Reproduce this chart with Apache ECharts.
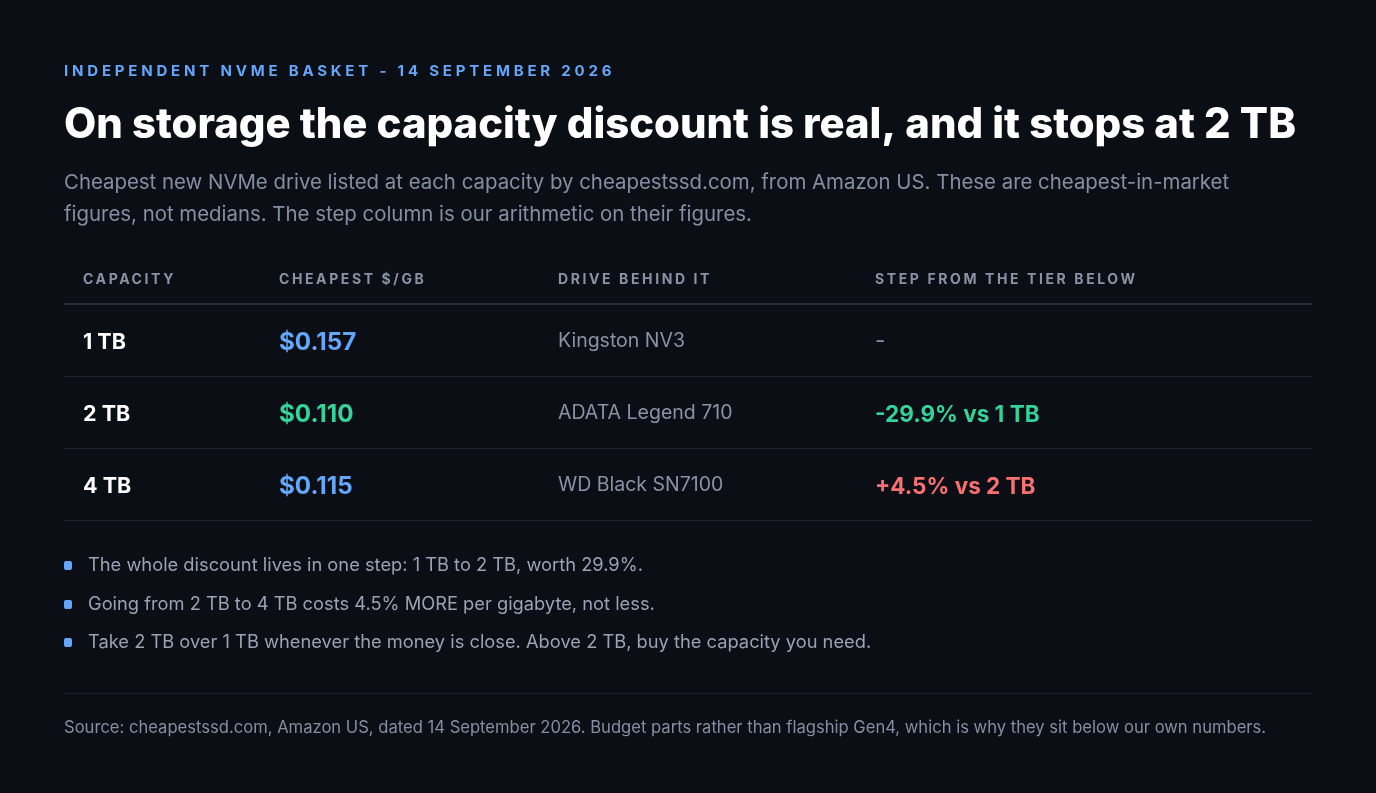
<!DOCTYPE html>
<html>
<head>
<meta charset="utf-8">
<script src="https://cdn.jsdelivr.net/npm/echarts@6/dist/echarts.min.js"></script>
<style>
  html, body { margin: 0; padding: 0; background: #0b0e15; }
  #main { width: 1376px; height: 793px; }
</style>
</head>
<body>
<div id="main"></div>
<script>
// table data
var capacities = ['1 TB', '2 TB', '4 TB'];
var pricePerGB = [0.157, 0.110, 0.115];
var drives = ['Kingston NV3', 'ADATA Legend 710', 'WD Black SN7100'];
var stepPct = [null, -29.9, 4.5];
var stepVs = [null, '1 TB', '2 TB'];
var headers = ['CAPACITY', 'CHEAPEST $/GB', 'DRIVE BEHIND IT', 'STEP FROM THE TIER BELOW'];

var kicker = 'INDEPENDENT NVME BASKET - 14 SEPTEMBER 2026';
var title = 'On storage the capacity discount is real, and it stops at 2 TB';
var subtitle = [
    'Cheapest new NVMe drive listed at each capacity by cheapestssd.com, from Amazon US. These are cheapest-in-market',
    'figures, not medians. The step column is our arithmetic on their figures.'
];
var notes = [
    'The whole discount lives in one step: 1 TB to 2 TB, worth 29.9%.',
    'Going from 2 TB to 4 TB costs 4.5% MORE per gigabyte, not less.',
    'Take 2 TB over 1 TB whenever the money is close. Above 2 TB, buy the capacity you need.'
];
var source = 'Source: cheapestssd.com, Amazon US, dated 14 September 2026. Budget parts rather than flagship Gen4, which is why they sit below our own numbers.';

// layout
var FONT = 'Inter, "Noto Sans", sans-serif';
var colLeft = [19, 215, 494, 811];
var BLUE = '#64a6f9', GREEN = '#34d399', RED = '#f87171';
var minPrice = Math.min.apply(null, pricePerGB);

// tracked (letter-spaced) caps labels: canvas letterSpacing only while drawing them
var tracking = {};
tracking[kicker] = '3.8px';
headers.forEach(function (h) { tracking[h] = '2.6px'; });
var origFillText = CanvasRenderingContext2D.prototype.fillText;
CanvasRenderingContext2D.prototype.fillText = function (t, x, y) {
    var ls = tracking[t];
    var has = 'letterSpacing' in this;
    var f = this.font;
    if (has) {
        this.letterSpacing = ls || '0px';
        this.font = f;
    }
    var r = origFillText.call(this, t, x, y);
    if (has && ls) {
        this.letterSpacing = '0px';
        this.font = f;
    }
    return r;
};

var dom = document.getElementById('main');
var chart = echarts.init(dom, null, { renderer: 'canvas' });

function txt(text, x, y, font, fill) {
    return {
        type: 'text',
        style: { text: text, x: x, y: y, font: font, fill: fill, textVerticalAlign: 'middle' }
    };
}

var graphics = [];
graphics.push(txt(kicker, 64, 71, 'bold 15px ' + FONT, BLUE));
graphics.push(txt(title, 64, 125, '800 41.8px ' + FONT, '#ffffff'));
subtitle.forEach(function (line, i) {
    graphics.push(txt(line, 64, 183 + i * 32, '20.4px ' + FONT, '#858ea3'));
});
headers.forEach(function (h, i) {
    graphics.push(txt(h, 64 + colLeft[i], 280, 'bold 14px ' + FONT, '#8a93a6'));
});
var noteY = [565, 604, 642];
notes.forEach(function (n, i) {
    graphics.push({
        type: 'rect',
        shape: { x: 64, y: noteY[i] - 4, width: 8, height: 9, r: 2 },
        style: { fill: BLUE }
    });
    graphics.push(txt(n, 88, noteY[i] + 1, '18.3px ' + FONT, '#9aa2b3'));
});
graphics.push({
    type: 'line',
    shape: { x1: 64, y1: 693.5, x2: 1312, y2: 693.5 },
    style: { stroke: '#1d2230', lineWidth: 1 }
});
graphics.push(txt(source, 64, 728, '16.6px ' + FONT, '#858ea3'));

var option = {
    backgroundColor: '#0b0e15',
    animation: false,
    grid: { left: 64, right: 64, top: 304, height: 216 },
    xAxis: {
        type: 'value', position: 'top', min: 0, max: 1,
        axisLine: { show: true, onZero: false, lineStyle: { color: '#262c3a', width: 2 } },
        axisTick: { show: false }, axisLabel: { show: false }, splitLine: { show: false }
    },
    yAxis: {
        type: 'category', inverse: true, data: capacities,
        axisLine: { show: false }, axisTick: { show: false }, axisLabel: { show: false },
        splitLine: { show: true, lineStyle: { color: '#1d2230', width: 1 } }
    },
    graphic: graphics,
    series: [{
        type: 'custom',
        data: capacities.map(function (c, i) { return [0, i]; }),
        encode: { x: 0, y: 1 },
        renderItem: function (params, api) {
            var i = api.value(1);
            var p = api.coord([0, i]);
            var x0 = p[0], y = p[1] + 3;
            var price = pricePerGB[i];
            var step = stepPct[i];
            var stepText = step === null ? '-' : (step > 0 ? '+' : '') + step.toFixed(1) + '% vs ' + stepVs[i];
            var stepColor = step === null ? '#858ea3' : (step < 0 ? GREEN : RED);
            return {
                type: 'group',
                children: [
                    txt(capacities[i], x0 + colLeft[0], y, 'bold 21.5px ' + FONT, '#ffffff'),
                    txt('$' + price.toFixed(3), x0 + colLeft[1], y, 'bold 24.2px ' + FONT, price === minPrice ? GREEN : BLUE),
                    txt(drives[i], x0 + colLeft[2], y - 2, '19.5px ' + FONT, '#8a92a6'),
                    txt(stepText, x0 + colLeft[3], step === null ? y - 2 : y, (step === null ? '' : 'bold ') + '22.5px ' + FONT, stepColor)
                ]
            };
        }
    }]
};

chart.setOption(option);
window.addEventListener('resize', function () { chart.resize(); });
</script>
</body>
</html>
